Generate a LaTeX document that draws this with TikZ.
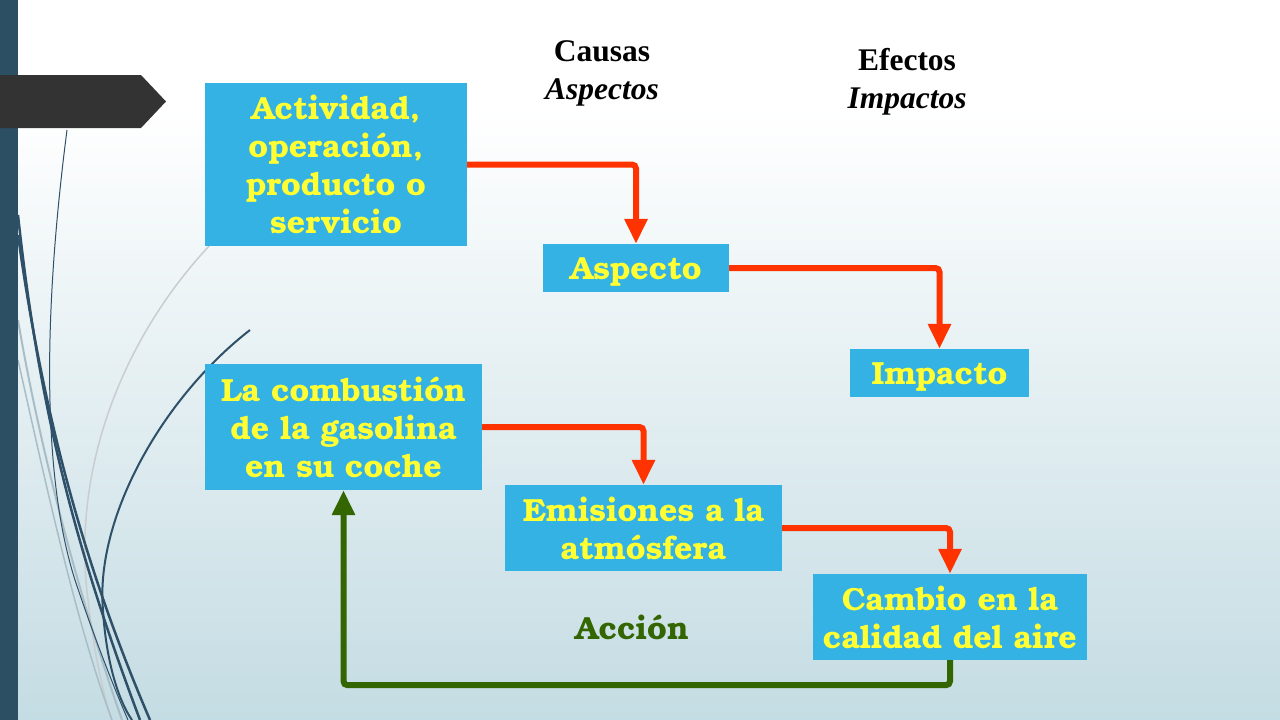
\documentclass[tikz,border=0pt]{standalone}
\usepackage{fontspec}
\setmainfont{Liberation Serif}
\newfontfamily\bkm{TeX Gyre Bonum}
\usetikzlibrary{arrows.meta}
\definecolor{boxblue}{HTML}{33B2E3}
\definecolor{boxtext}{HTML}{FFFF33}
\definecolor{arrred}{HTML}{FF3300}
\definecolor{arrgreen}{HTML}{336600}
\definecolor{bgbottom}{HTML}{C4DCE3}
\definecolor{bardark}{HTML}{2D4F64}
\definecolor{tagdark}{HTML}{333333}
\definecolor{curvedark}{HTML}{2E5069}
\definecolor{curvegray}{HTML}{A9BDC6}
\definecolor{curvelight}{HTML}{C9CDD0}
\tikzset{
  box/.style={fill=boxblue, text=boxtext, align=center, inner sep=0pt,
    font=\bkm\bfseries\fontsize{32}{38}\selectfont},
  redarrow/.style={draw=arrred, line width=6pt, rounded corners=4pt,
    -{Triangle[width=22pt,length=25pt]}},
  greenarrow/.style={draw=arrgreen, line width=6pt, rounded corners=4pt,
    -{Triangle[width=22pt,length=25pt]}},
  headtxt/.style={align=center, inner sep=0pt, font=\bfseries\fontsize{31.5}{38}\selectfont}
}
\begin{document}
\begin{tikzpicture}[x=1pt,y=-1pt]
\useasboundingbox (0,0) rectangle (1280,720);
% background
\fill[white] (0,0) rectangle (1280,110);
\shade[top color=white, bottom color=bgbottom] (0,110) rectangle (1280,720);
% decorative curves
\draw[curvelight, line width=1.5pt] (210,245) .. controls (130,330) and (70,460) .. (88,600) .. controls (95,660) and (105,700) .. (112,720);
\draw[curvegray, line width=2pt] (18,320) .. controls (40,450) and (80,600) .. (122,720);
\draw[curvegray, line width=1.5pt] (18,360) .. controls (45,480) and (75,620) .. (112,720);
\draw[curvedark, line width=1pt] (67,130) .. controls (45,300) and (40,470) .. (75,580) .. controls (95,640) and (115,690) .. (128,720);
\draw[curvedark, line width=2.5pt] (18,215) .. controls (40,420) and (80,560) .. (140,720);
\draw[curvedark, line width=2.5pt] (18,235) .. controls (45,430) and (90,580) .. (150,720);
\draw[curvedark, line width=2pt] (250,330) .. controls (160,400) and (95,520) .. (103,610) .. controls (106,660) and (118,700) .. (132,720);
% left bar and tag
\fill[bardark] (0,0) rectangle (18,720);
\fill[tagdark] (0,75) -- (141,75) -- (166,101.5) -- (141,128) -- (0,128) -- cycle;
% headings
\node[headtxt] (causas) at (602,73) {Causas\\\textit{Aspectos}};
\node[headtxt] (efectos) at (907,82) {Efectos\\\textit{Impactos}};
% boxes
\node[box, minimum width=262pt, minimum height=163pt] (act) at (336,164.5) {Actividad,\\operación,\\producto o\\servicio};
\node[box, minimum width=186pt, minimum height=48pt, text height=29pt] (asp) at (636,268) {Aspecto};
\node[box, minimum width=179pt, minimum height=48pt, text height=29pt] (imp) at (939.5,373) {Impacto};
\node[box, minimum width=277pt, minimum height=126pt] (comb) at (343.5,427) {La combustión\\de la gasolina\\en su coche};
\node[box, minimum width=277pt, minimum height=86pt] (emi) at (643.5,528) {Emisiones a la\\atmósfera};
\node[box, minimum width=274pt, minimum height=86pt] (cam) at (950,617) {Cambio en la\\calidad del aire};
\node[inner sep=0pt, text=arrgreen, font=\bkm\bfseries\fontsize{32}{38}\selectfont] (accion) at (632,627) {Acción};
% arrows
\draw[redarrow] (act.east) -| (asp.north);
\draw[redarrow] (asp.east) -| (imp.north);
\draw[redarrow] (comb.east) -| (emi.north);
\draw[redarrow] (emi.east) -| (cam.north);
\draw[greenarrow] (cam.south) -- ++(0,25) -| (comb.south);
\end{tikzpicture}
\end{document}
